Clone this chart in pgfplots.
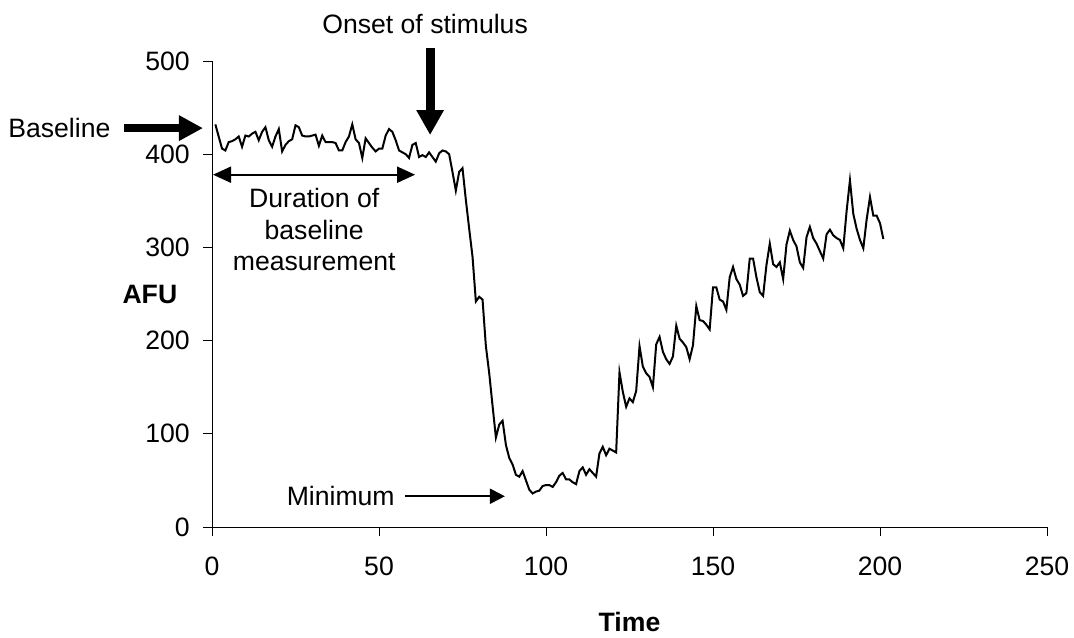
\documentclass[border=0pt]{standalone}
\usepackage{fontspec}
\setmainfont{Liberation Sans}
\usepackage{pgfplots}
\pgfplotsset{compat=1.18}
\usetikzlibrary{arrows.meta}

\pgfplotstableread{
t v
1 432
2 419
3 406
4 404
5 413
6 414
7 416
8 419
9 408
10 420
11 419
12 422
13 424
14 415
15 424
16 429
17 415
18 408
19 419
20 427
21 403
22 410
23 414
24 416
25 431
26 429
27 420
28 419
29 419
30 420
31 421
32 409
33 420
34 413
35 413
36 413
37 412
38 404
39 404
40 413
41 419
42 432
43 416
44 412
45 396
46 417
47 412
48 407
49 403
50 406
51 406
52 420
53 427
54 424
55 415
56 404
57 402
58 400
59 396
60 410
61 412
62 397
63 399
64 397
65 402
66 397
67 392
68 401
69 404
70 403
71 400
72 381
73 361
74 381
75 385
76 351
77 320
78 290
79 242
80 247
81 244
82 194
83 165
84 130
85 96
86 110
87 114
88 88
89 74
90 67
91 56
92 54
93 60
94 50
95 40
96 36
97 38
98 39
99 44
100 45
101 45
102 43
103 48
104 55
105 58
106 51
107 51
108 48
109 46
110 60
111 64
112 56
113 62
114 58
115 54
116 79
117 86
118 77
119 84
120 82
121 80
122 166
123 145
124 129
125 138
126 134
127 146
128 194
129 172
130 165
131 161
132 150
133 196
134 204
135 188
136 180
137 175
138 183
139 216
140 202
141 198
142 193
143 180
144 195
145 237
146 222
147 221
148 217
149 212
150 257
151 257
152 244
153 242
154 233
155 268
156 279
157 266
158 260
159 248
160 251
161 288
162 288
163 268
164 252
165 248
166 281
167 304
168 282
169 279
170 284
171 266
172 303
173 318
174 308
175 301
176 284
177 278
178 311
179 322
180 310
181 304
182 296
183 288
184 314
185 319
186 313
187 310
188 308
189 299
190 339
191 372
192 336
193 320
194 308
195 299
196 330
197 354
198 334
199 334
200 326
201 309
}\afudata

\begin{document}
\fontsize{13.3}{16}\selectfont
\begin{tikzpicture}[x=1pt,y=1pt]
\useasboundingbox (0,0) rectangle (537,318.5);
\begin{axis}[
  at={(106pt,55pt)}, anchor=south west,
  width=417.5pt, height=233pt, scale only axis,
  xmin=0, xmax=250, ymin=0, ymax=500,
  axis x line*=bottom, axis y line*=left,
  tick align=outside,
  major tick length=4.5pt,
  xtick={0,50,...,250}, ytick={0,100,...,500},
  tick style={black, line width=0.5pt},
  axis line style={black, line width=0.5pt},
  ticklabel style={font=\fontsize{13.3}{16}\selectfont},
  xticklabel style={yshift=-6pt},
  yticklabel style={xshift=-2pt},
  /pgf/number format/assume math mode=true,
  clip=false,
]
\addplot[black, line width=1pt] table[x=t, y=v] {\afudata};

% Onset of stimulus
\node[anchor=base, inner sep=0pt] at (axis cs:63.8,529) {Onset of stimulus};
\draw[line width=4.5pt, -{Triangle[length=12.5pt,width=13pt]}] (axis cs:65.3,514) -- (axis cs:65.3,420.6);

% Baseline
\node[anchor=base west, inner sep=0pt] at (axis cs:-61.1,418) {Baseline};
\draw[line width=4pt, -{Triangle[length=12pt,width=12pt]}] (axis cs:-26.2,428) -- (axis cs:-2.7,428);

% Duration arrow and text
\draw[line width=1pt, {Triangle[length=9pt,width=8pt]}-{Triangle[length=9pt,width=8pt]}] (axis cs:0.3,378) -- (axis cs:60.8,378);
\node[anchor=base, inner sep=0pt] at (axis cs:30.6,343.3) {Duration of};
\node[anchor=base, inner sep=0pt] at (axis cs:30.6,309) {baseline};
\node[anchor=base, inner sep=0pt] at (axis cs:30.6,274.7) {measurement};

% Minimum
\node[anchor=base east, inner sep=0pt] at (axis cs:54.8,23.6) {Minimum};
\draw[line width=1pt, -{Triangle[length=7.5pt,width=7.5pt]}] (axis cs:57.8,33) -- (axis cs:87.7,33);

% axis titles
\node[font=\bfseries\fontsize{13.3}{16}\selectfont] at (axis cs:-18.6,249) {AFU};
\node[font=\bfseries\fontsize{13.3}{16}\selectfont] at (axis cs:125,-102) {Time};
\end{axis}
\end{tikzpicture}
\end{document}
